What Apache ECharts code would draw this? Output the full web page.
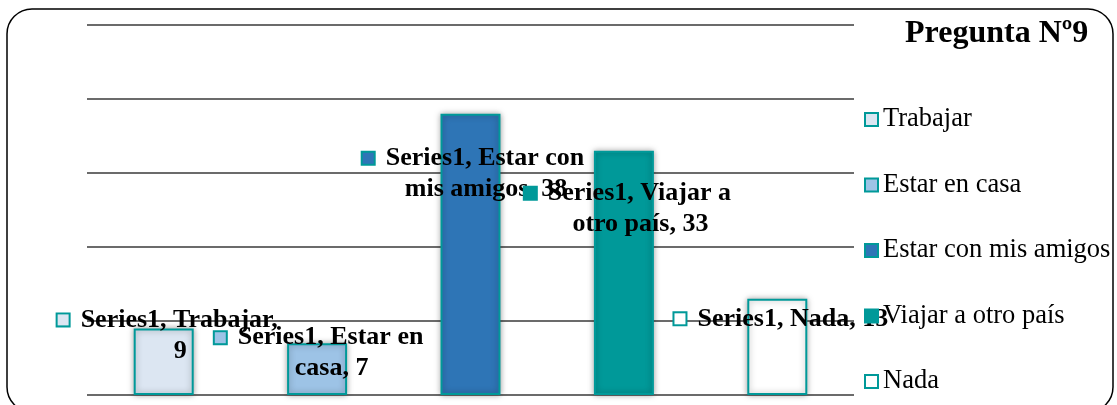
<!DOCTYPE html>
<html>
<head>
<meta charset="utf-8">
<script src="https://cdn.jsdelivr.net/npm/echarts@6/dist/echarts.min.js"></script>
<style>
	html, body { margin: 0; padding: 0; background: #ffffff; }
	#chart { width: 1117px; height: 405px; }
</style>
</head>
<body>
<div id="chart"></div>
<script>
	// datos de la pregunta 9
	var seriesName = 'Series1';
	var categories = ['Trabajar', 'Estar en casa', 'Estar con mis amigos', 'Viajar a otro país', 'Nada'];
	var values = [9, 7, 38, 33, 13];
	var yTicks = [0, 10, 20, 30, 40, 50];

	// colores de cada barra
	var fills = ['#dce6f2', '#9dc3e6', '#2e75b6', '#009999', '#ffffff'];
	var edge = '#009999';
	// desplazamiento de las etiquetas respecto al borde superior de la barra
	var labelOffsets = [[4, 7], [2, 10], [3, 60], [4, 58], [4, 20]];
	var wordsFirstLine = [2, 3, 3, 3, 3];

	var font = 'Liberation Serif, Times New Roman, serif';

	var series = categories.map(function(cat, i) {
		var data = categories.map(function(c, j) {
			if (j !== i) return null;
			return {
				value: values[i],
				label: { offset: labelOffsets[i] }
			};
		});
		return {
			name: cat,
			type: 'bar',
			stack: 'total',
			barWidth: 60,
			data: data,
			itemStyle: {
				color: fills[i],
				borderColor: edge,
				borderWidth: 2,
				shadowBlur: 6,
				shadowColor: 'rgba(0,0,0,0.35)'
			},
			label: {
				show: true,
				position: ['50%', 0],
				align: 'center',
				verticalAlign: 'middle',
				lineHeight: 31,
				formatter: function(p) {
					var words = (seriesName + ', ' + cat + ', ' + p.value).split(' ');
					var l1 = words.slice(0, wordsFirstLine[i]).join(' ');
					var l2 = words.slice(wordsFirstLine[i]).join(' ');
					var s = '{k|}{g|}{t|' + l1 + '}';
					if (l2) s += '\n{sp|}{t|' + l2 + '}';
					return s;
				},
				rich: {
					k: { width: 11, height: 11, backgroundColor: fills[i], borderColor: edge, borderWidth: 2 },
					g: { width: 12 },
					sp: { width: 25 },
					t: { fontFamily: font, fontWeight: 'bold', fontSize: 26, color: '#000', lineHeight: 31 }
				}
			},
			emphasis: { disabled: true }
		};
	});

	var myChart = echarts.init(document.getElementById('chart'));
	myChart.setOption({
		animation: false,
		title: {
			text: 'Pregunta Nº9',
			left: 905,
			top: 18,
			padding: 0,
			textStyle: { fontFamily: font, fontWeight: 'bold', fontSize: 32, color: '#000' }
		},
		legend: {
			orient: 'vertical',
			left: 864,
			top: 106,
			padding: 0,
			itemWidth: 13,
			itemHeight: 13,
			itemGap: 38.5,
			selectedMode: false,
			icon: 'rect',
			data: categories,
			textStyle: { fontFamily: font, fontSize: 26.5, color: '#000', lineHeight: 26 }
		},
		grid: { left: 87, right: 263, top: 25, bottom: 10 },
		xAxis: {
			type: 'category',
			data: categories,
			axisLine: { show: false },
			axisTick: { show: false },
			axisLabel: { show: false }
		},
		yAxis: {
			type: 'value',
			min: yTicks[0],
			max: yTicks[yTicks.length - 1],
			interval: yTicks[1] - yTicks[0],
			axisLine: { show: false },
			axisTick: { show: false },
			axisLabel: { show: false },
			splitLine: { lineStyle: { color: '#3a3a3a', width: 1.5 } }
		},
		series: series,
		graphic: [{
			type: 'rect',
			silent: true,
			shape: { x: 7, y: 9, width: 1106, height: 403, r: 25 },
			style: { fill: 'none', stroke: '#000', lineWidth: 1.5 }
		}]
	});
</script>
</body>
</html>
